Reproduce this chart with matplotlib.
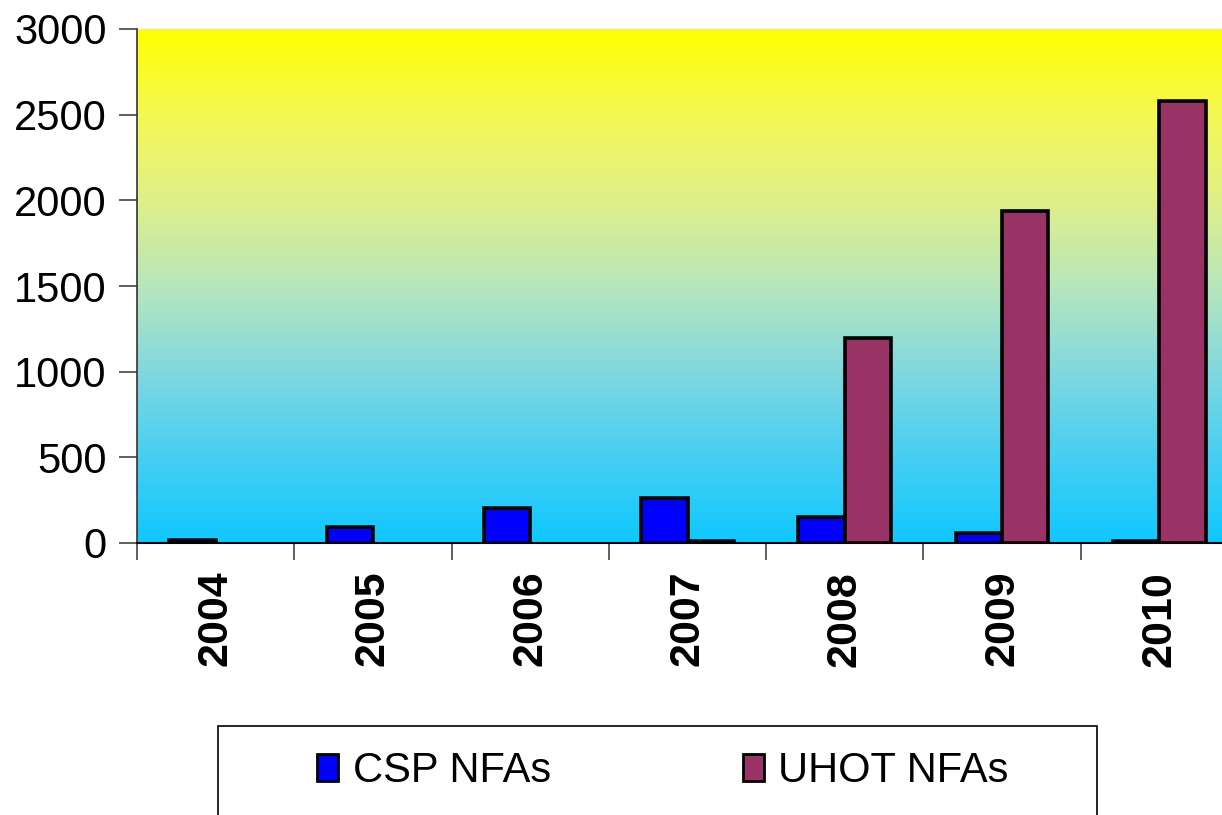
import numpy as np
import matplotlib
matplotlib.use("Agg")
import matplotlib.pyplot as plt
from matplotlib.colors import LinearSegmentedColormap
from matplotlib.patches import Patch, Rectangle

plt.rcParams["font.family"] = ["Liberation Sans", "DejaVu Sans"]

# Data
years = ["2004", "2005", "2006", "2007", "2008", "2009", "2010"]
csp_nfas = [15, 92, 205, 262, 152, 58, 13]
uhot_nfas = [0, 0, 0, 12, 1198, 1935, 2578]
series_names = ["CSP NFAs", "UHOT NFAs"]
y_ticks = [0, 500, 1000, 1500, 2000, 2500, 3000]

fig = plt.figure(figsize=(12.22, 8.15), dpi=100)
ax = fig.add_axes([137 / 1222, 272 / 815, 1101 / 1222, 514 / 815])

# gradient background, sky blue at the bottom to yellow at the top
grad = LinearSegmentedColormap.from_list("bg", [
    (0.00, "#10c8ff"),
    (0.17, "#48cef2"),
    (0.33, "#80d8e0"),
    (0.50, "#b8e6bc"),
    (0.67, "#e0f088"),
    (0.83, "#f4f855"),
    (1.00, "#ffff00"),
])
ax.imshow(np.linspace(0, 1, 256).reshape(-1, 1), cmap=grad, aspect="auto",
          extent=[-0.5, len(years) - 0.5, 0, 3000], origin="lower", zorder=0)

x = np.arange(len(years))
w = 0.295
csp = np.array(csp_nfas, dtype=float)
uhot = np.array(uhot_nfas, dtype=float)
ax.bar((x - w / 2)[csp > 0], csp[csp > 0], w, color="#0000ff",
       edgecolor="black", linewidth=2.6, zorder=3)
ax.bar((x + w / 2)[uhot > 0], uhot[uhot > 0], w, color="#993366",
       edgecolor="black", linewidth=2.6, zorder=3)

ax.set_xlim(-0.5, len(years) - 0.5)
ax.set_ylim(0, 3000)
ax.set_yticks(y_ticks)
ax.set_yticklabels([str(t) for t in y_ticks], fontsize=30)

# category labels between boundary ticks, as in spreadsheet charts
ax.set_xticks(np.arange(len(years) + 1) - 0.5)
ax.set_xticklabels([])
ax.set_xticks(x, minor=True)
ax.set_xticklabels(years, minor=True, rotation=90, fontsize=31,
                   fontweight="bold")
ax.tick_params(axis="x", which="minor", length=0, pad=20)
ax.tick_params(axis="x", which="major", length=12, width=1.2, color="#444444",
               direction="out")
ax.tick_params(axis="y", length=13, width=1.2, color="#444444", pad=9)

for side in ["top", "right"]:
    ax.spines[side].set_visible(False)
ax.spines["left"].set_color("#333333")
ax.spines["left"].set_linewidth(1.2)
ax.spines["bottom"].set_color("black")
ax.spines["bottom"].set_linewidth(1.5)

# legend box runs off the bottom of the picture
fig.patches.append(Rectangle((218 / 1222, -0.05), (1097 - 218) / 1222,
                             (815 - 726) / 815 + 0.05,
                             transform=fig.transFigure, facecolor="white",
                             edgecolor="black", linewidth=1.2))
handles = [Patch(facecolor="#0000ff", edgecolor="black", linewidth=2),
           Patch(facecolor="#993366", edgecolor="black", linewidth=2)]
fig.legend(handles, series_names, loc="center", ncol=2, frameon=False,
           bbox_to_anchor=(663 / 1222, 1 - 771 / 815), fontsize=30,
           handlelength=0.5, handleheight=0.6, handletextpad=0.35,
           columnspacing=4.6)

fig.savefig("out.png", dpi=100)
